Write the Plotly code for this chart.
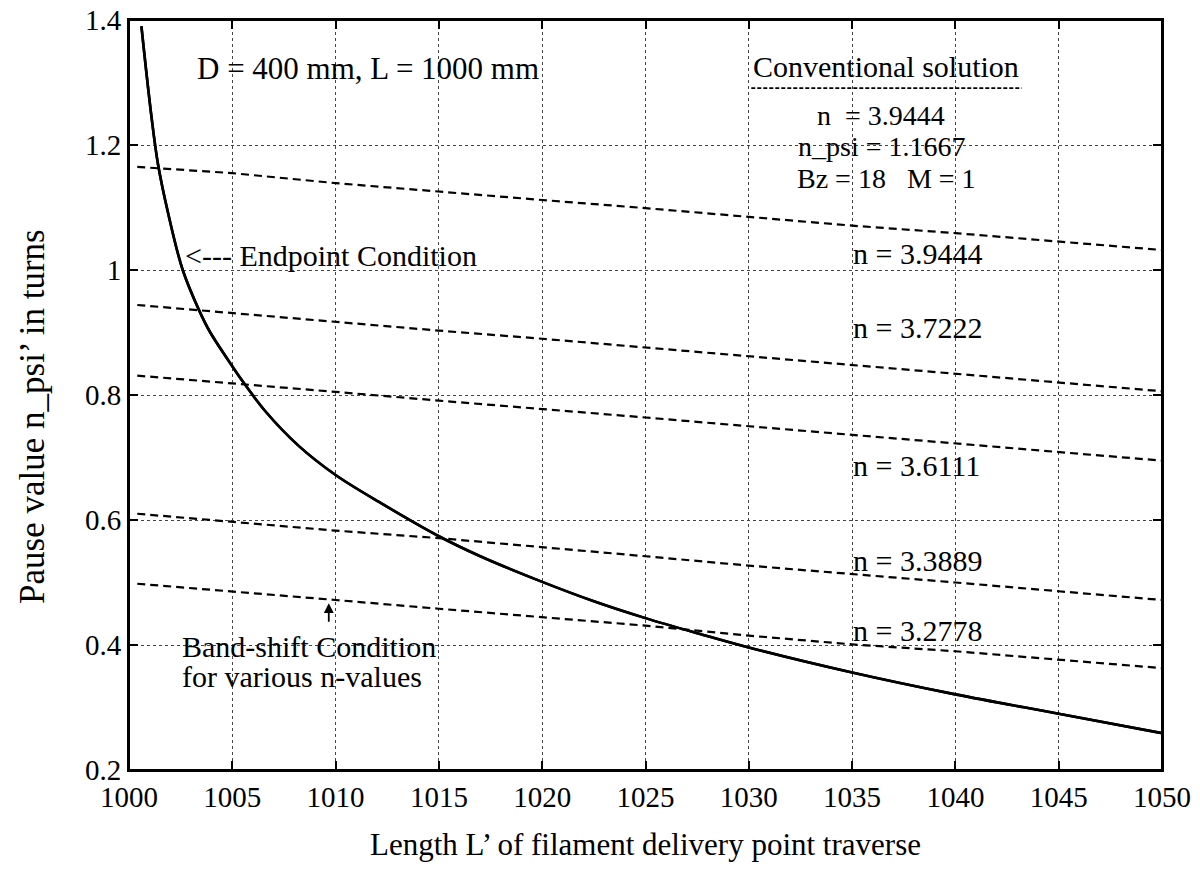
import plotly.graph_objects as go

# Endpoint condition curve (solid)
end_x = [1000.6, 1001.07, 1001.4, 1001.9, 1002.6, 1003.4, 1003.9, 1005.0, 1005.5, 1006.6, 1008.2,
         1010, 1012.3, 1015, 1017, 1020, 1022.5, 1025, 1027.6, 1030, 1035, 1040, 1045, 1050]
end_y = [1.39, 1.25, 1.17, 1.09, 1.00, 0.935, 0.902, 0.846, 0.822, 0.774, 0.719,
         0.672, 0.625, 0.574, 0.542, 0.501, 0.470, 0.443, 0.418, 0.396, 0.356, 0.321, 0.290, 0.259]

# Band-shift condition lines (dashed)
band_x = [1000.4, 1005, 1010, 1015, 1020, 1025, 1030, 1035, 1040, 1045, 1050]
band_n_labels = ["n = 3.9444", "n = 3.7222", "n = 3.6111", "n = 3.3889", "n = 3.2778"]
band_y_39444 = [1.165, 1.155, 1.139, 1.125, 1.112, 1.099, 1.085, 1.071, 1.059, 1.045, 1.032]
band_y_37222 = [0.944, 0.931, 0.917, 0.903, 0.890, 0.876, 0.861, 0.847, 0.833, 0.819, 0.806]
band_y_36111 = [0.831, 0.819, 0.805, 0.791, 0.778, 0.764, 0.750, 0.736, 0.722, 0.708, 0.695]
band_y_33889 = [0.610, 0.597, 0.583, 0.571, 0.557, 0.542, 0.527, 0.514, 0.500, 0.486, 0.472]
band_y_32778 = [0.498, 0.486, 0.472, 0.458, 0.445, 0.431, 0.415, 0.401, 0.390, 0.377, 0.363]
band_series = [band_y_39444, band_y_37222, band_y_36111, band_y_33889, band_y_32778]
band_label_y = [1.027, 0.908, 0.687, 0.535, 0.423]

x_ticks = [1000, 1005, 1010, 1015, 1020, 1025, 1030, 1035, 1040, 1045, 1050]
y_ticks = [0.2, 0.4, 0.6, 0.8, 1.0, 1.2, 1.4]
y_tick_text = ["0.2", "0.4", "0.6", "0.8", "1", "1.2", "1.4"]

FONT = "Liberation Serif"
fs_tick = 29
fs_ann = 30

fig = go.Figure()
for ys in band_series:
    fig.add_trace(go.Scatter(x=band_x, y=ys, mode="lines",
                             line=dict(color="black", width=2.2, dash="8px,5px"),
                             showlegend=False, hoverinfo="skip"))
fig.add_trace(go.Scatter(x=end_x, y=end_y, mode="lines",
                         line=dict(color="black", width=2.6, shape="spline", smoothing=1.0),
                         showlegend=False))
# same curve on the top (mirror) axis so that the top frame and ticks are drawn
fig.add_trace(go.Scatter(x=end_x, y=end_y, mode="lines", xaxis="x2",
                         line=dict(color="black", width=2.6, shape="spline", smoothing=1.0),
                         showlegend=False, hoverinfo="skip"))

ann = []
def txt(x, y, t, xanchor="left", size=fs_ann):
    ann.append(dict(x=x, y=y, xref="x", yref="y", text=t, showarrow=False,
                    xanchor=xanchor, yanchor="middle", font=dict(family=FONT, size=size, color="black")))

txt(1003.21, 1.323, "D = 400 mm, L = 1000 mm", size=31)
txt(1030.12, 1.325, "Conventional solution")
txt(1036.4, 1.248, "n  = 3.9444", "center", size=28)
txt(1036.4, 1.198, "n_psi = 1.1667", "center", size=28)
txt(1036.67, 1.147, "Bz = 18   M = 1", "center", size=28)
txt(1002.63, 1.024, "<--- Endpoint Condition")
for lab, ly in zip(band_n_labels, band_label_y):
    txt(1034.95, ly, lab)
txt(1002.49, 0.397, "Band-shift Condition")
txt(1002.49, 0.349, "for various n-values")
ann.append(dict(x=1009.67, y=0.467, xref="x", yref="y", ax=0, ay=20, text="",
                showarrow=True, arrowhead=2, arrowsize=1.1, arrowwidth=1.8, arrowcolor="black"))
# y-axis title (placed as rotated text to match the reference position)
ann.append(dict(x=-0.094, y=0.472, xref="paper", yref="paper", text="Pause value n_psi’ in turns",
                textangle=-90, showarrow=False, xanchor="center", yanchor="middle",
                font=dict(family=FONT, size=35, color="black")))

fig.add_shape(type="line", xref="x", yref="y", x0=1030.12, x1=1043.21, y0=1.291, y1=1.291,
              line=dict(color="black", width=1.6, dash="4px,2px"))
fig.add_shape(type="rect", xref="paper", yref="paper", x0=0, x1=1, y0=0, y1=1,
              line=dict(color="black", width=2), layer="above")

axis_common = dict(showline=True, linecolor="black", linewidth=2, mirror="ticks",
                   ticks="inside", ticklen=9, tickwidth=1.6, tickcolor="black",
                   showgrid=True, gridcolor="#444", gridwidth=1, griddash="dot",
                   zeroline=False, automargin=False,
                   tickfont=dict(family=FONT, size=fs_tick, color="black"))

fig.update_xaxes(range=[1000, 1050], tickvals=x_ticks, **axis_common,
                 title=dict(text="Length L’ of filament delivery point traverse",
                            font=dict(family=FONT, size=31, color="black"), standoff=22))
fig.update_yaxes(range=[0.2, 1.4], tickvals=y_ticks, ticktext=y_tick_text, **axis_common)

fig.update_layout(
    xaxis2=dict(overlaying="x", side="top", anchor="y", range=[1000, 1050], tickvals=x_ticks,
                showticklabels=False, showgrid=False, zeroline=False, showline=True,
                linecolor="black", linewidth=2, ticks="inside", ticklen=9, tickwidth=1.6,
                tickcolor="black", automargin=False),
    width=1200, height=870, margin=dict(l=129, r=38, t=20, b=100),
    plot_bgcolor="white", paper_bgcolor="white", annotations=ann,
    font=dict(family=FONT, size=fs_tick, color="black"))

fig.write_html("out.html", post_script="document.body.style.margin='0px';",
               config={"displayModeBar": False})
